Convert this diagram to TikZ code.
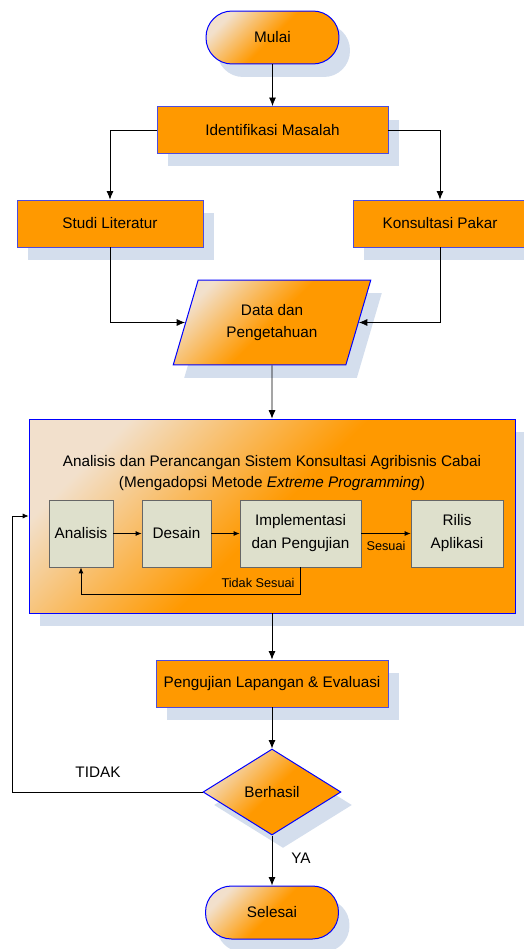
\documentclass[tikz,border=0pt]{standalone}
\usepackage{fontspec}
\setmainfont{Liberation Sans}
\usetikzlibrary{shapes.geometric,shadows,arrows.meta}

\def\s{0.03515}
\def\punkt#1#2{({#1*\s},{-#2*\s})}
\definecolor{jingga}{rgb}{1,0.6,0}
\definecolor{jinggamuda}{rgb}{0.95,0.88,0.80}
\definecolor{bayang}{rgb}{0.83,0.87,0.93}
\definecolor{garis}{rgb}{0.30,0.30,0.88}
\definecolor{abu}{rgb}{0.87,0.88,0.80}

\tikzset{
	bayangan/.style={drop shadow={shadow xshift=11pt,shadow yshift=-13pt,fill=bayang,opacity=1}},
	gradasi/.style={top color=jinggamuda,bottom color=jingga,middle color=jingga,shading angle=45},
	kotak/.style={rectangle,draw=garis,line width=0.9pt,fill=jingga,bayangan,minimum height=47pt,inner sep=0pt},
	terminal/.style={rectangle,rounded corners=26pt,draw=blue,line width=1pt,gradasi,bayangan,
		minimum width=133pt,minimum height=53pt},
	kecil/.style={rectangle,draw=black!60,line width=0.8pt,fill=abu,minimum height=67pt,inner sep=0pt,align=center},
	teksk/.style={font=\fontsize{12.7}{15}\selectfont},
	panahk/.style={-{Latex[length=6pt,width=5pt]}}
}

\begin{document}
\begin{tikzpicture}[>={Latex[length=8.5pt,width=7pt]},line width=0.8pt,font=\fontsize{15.3}{22}\selectfont]

\useasboundingbox \punkt{0}{0} rectangle \punkt{524}{949};

\node[terminal] (mulai) at \punkt{272.5}{37.5} {Mulai};
\node[kotak,minimum width=231pt] (identifikasi) at \punkt{272.5}{130} {Identifikasi Masalah};
\node[kotak,minimum width=186pt] (studi) at \punkt{110}{223.5} {Studi Literatur};
\node[kotak,minimum width=174pt] (pakar) at \punkt{440}{223.5} {Konsultasi Pakar};
\node[trapezium,trapezium left angle=67,trapezium right angle=113,trapezium stretches=true,
	draw=blue,line width=1pt,gradasi,bayangan,minimum width=198pt,minimum height=85pt,
	inner sep=0pt,align=center] (data) at \punkt{272}{322.5} {Data dan\\Pengetahuan};

\node[rectangle,draw=blue,line width=0.7pt,gradasi,bayangan,minimum width=486pt,minimum height=194pt]
	(agri) at \punkt{272}{516} {};
\node[align=center,font=\fontsize{15.3}{21}\selectfont] (judul) at \punkt{272}{473.5}
	{Analisis dan Perancangan Sistem Konsultasi Agribisnis Cabai\\(Mengadopsi Metode \textit{Extreme Programming})};

\node[kecil,minimum width=64pt] (analisis) at \punkt{81}{533.5} {Analisis};
\node[kecil,minimum width=69pt] (desain) at \punkt{176.5}{533.5} {Desain};
\node[kecil,minimum width=121pt,font=\fontsize{15.3}{23}\selectfont] (implementasi) at \punkt{300.5}{533.5} {Implementasi\\dan Pengujian};
\node[kecil,minimum width=92pt,font=\fontsize{15.3}{23}\selectfont] (rilis) at \punkt{457}{533.5} {Rilis\\Aplikasi};

\node[kotak,minimum width=232pt] (uji) at \punkt{272}{683.5} {Pengujian Lapangan \& Evaluasi};
\node[diamond,draw=blue,line width=1pt,gradasi,bayangan,minimum width=138pt,minimum height=86pt,
	inner sep=0pt] (berhasil) at \punkt{272}{792} {Berhasil};
\node[terminal] (selesai) at \punkt{272}{912.5} {Selesai};

\path \punkt{12}{792} coordinate (kiri);
\path \punkt{300.5}{594} coordinate (bawah);

\draw[->] (mulai) -- (identifikasi);
\draw[->] (identifikasi.west) -| (studi.north);
\draw[->] (identifikasi.east) -| (pakar.north);
\draw[->] (studi.south) |- (data.west);
\draw[->] (pakar.south) |- (data.east);
\draw[->] (data.south) -- (agri.north);

\draw[panahk] (analisis) -- (desain);
\draw[panahk] (desain) -- (implementasi);
\draw[panahk] (implementasi) -- (rilis);
\draw[panahk] (implementasi.south) -- (bawah) -| (analisis.south);
\node[teksk] (sesuai) at \punkt{386}{546} {Sesuai};
\node[teksk] (tidaksesuai) at \punkt{258}{583} {Tidak Sesuai};

\draw[->] (agri.south) -- (uji.north);
\draw[->] (uji) -- (berhasil);
\draw[->] (berhasil) -- (selesai);
\draw[panahk] (berhasil.west) -- (kiri) |- (agri.west);
\node (tidak) at \punkt{98}{772} {TIDAK};
\node (ya) at \punkt{301}{858} {YA};

\end{tikzpicture}
\end{document}
